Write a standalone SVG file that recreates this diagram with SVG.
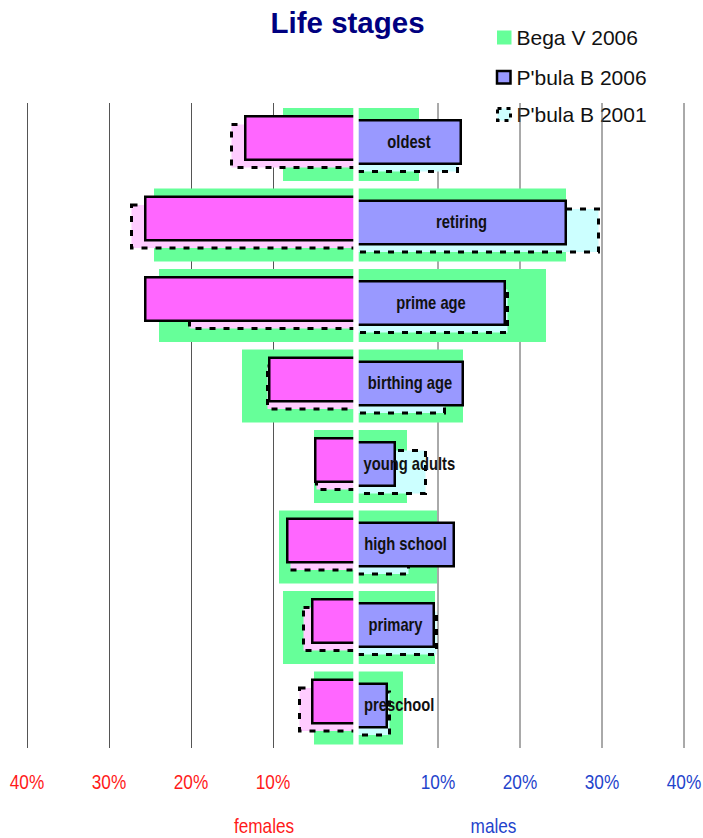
<svg xmlns="http://www.w3.org/2000/svg" width="703" height="838" viewBox="0 0 703 838">
<style>
.grid{stroke:#555;stroke-width:1}
.g{fill:#66FF99}
.f1{fill:#FFCCFF;stroke:#000;stroke-width:3;stroke-dasharray:6 8}
.f6{fill:#FF66FF;stroke:#000;stroke-width:2.5}
.m1{fill:#CCFFFF;stroke:#000;stroke-width:3;stroke-dasharray:6 8}
.m6{fill:#9999FF;stroke:#000;stroke-width:2.5}
.lbl{font-family:'Liberation Sans',Arial,sans-serif;font-weight:bold;font-size:18px;fill:#111;text-anchor:middle}
.ax{font-family:'Liberation Sans',Arial,sans-serif;font-size:21px;text-anchor:middle}
.red{fill:#FF1A1A}
.blue{fill:#1F44CC}
.leg{font-family:'Liberation Sans',Arial,sans-serif;font-size:21px;fill:#111}
</style>
<rect width="703" height="838" fill="#fff"/>
<text x="270.5" y="33" font-family="'Liberation Sans',Arial,sans-serif" font-weight="bold" font-size="29.5" fill="#000080">Life stages</text>
<g id="legend">
<rect x="497" y="30.5" width="14.5" height="14" fill="#66FF99"/>
<text class="leg" x="516.5" y="45">Bega V 2006</text>
<rect x="497" y="71" width="13.5" height="12.5" fill="#9999FF" stroke="#000" stroke-width="2.5"/>
<text class="leg" x="516.5" y="84.5">P'bula B 2006</text>
<rect x="497.5" y="108.5" width="13" height="12" fill="#CCFFFF" stroke="#000" stroke-width="3" stroke-dasharray="4 5"/>
<text class="leg" x="516.5" y="122">P'bula B 2001</text>
</g>
<g id="gridlines">
<line class="grid" x1="27.5" y1="103" x2="27.5" y2="748"/>
<line class="grid" x1="109.5" y1="103" x2="109.5" y2="748"/>
<line class="grid" x1="191.5" y1="103" x2="191.5" y2="748"/>
<line class="grid" x1="273.5" y1="103" x2="273.5" y2="748"/>
<line class="grid" x1="438" y1="103" x2="438" y2="748"/>
<line class="grid" x1="520" y1="103" x2="520" y2="748"/>
<line class="grid" x1="602" y1="103" x2="602" y2="748"/>
<line class="grid" x1="684" y1="103" x2="684" y2="748"/>
</g>
<g id="oldest">
<rect class="g" x="283" y="108" width="136" height="73"/>
<rect class="f1" x="231.5" y="124.5" width="124.5" height="43"/>
<rect class="f6" x="245.25" y="116.25" width="110.75" height="43.5"/>
<rect class="m1" x="356" y="128.5" width="101.5" height="43"/>
<rect class="m6" x="356" y="120.25" width="104.75" height="43.5"/>
</g>
<g id="retiring">
<rect class="g" x="154" y="188.5" width="412" height="73"/>
<rect class="f1" x="131.5" y="205" width="224.5" height="43"/>
<rect class="f6" x="145.25" y="196.75" width="210.75" height="43.5"/>
<rect class="m1" x="356" y="209" width="242.5" height="43"/>
<rect class="m6" x="356" y="200.75" width="209.75" height="43.5"/>
</g>
<g id="prime-age">
<rect class="g" x="159" y="269" width="387" height="73"/>
<rect class="f1" x="189.5" y="285.5" width="166.5" height="43"/>
<rect class="f6" x="145.25" y="277.25" width="210.75" height="43.5"/>
<rect class="m1" x="356" y="289.5" width="151.5" height="43"/>
<rect class="m6" x="356" y="281.25" width="148.75" height="43.5"/>
</g>
<g id="birthing-age">
<rect class="g" x="242" y="349.5" width="221" height="73"/>
<rect class="f1" x="267.5" y="366" width="88.5" height="43"/>
<rect class="f6" x="269.25" y="357.75" width="86.75" height="43.5"/>
<rect class="m1" x="356" y="370" width="88.5" height="43"/>
<rect class="m6" x="356" y="361.75" width="106.75" height="43.5"/>
</g>
<g id="young-adults">
<rect class="g" x="314" y="430" width="93" height="73"/>
<rect class="f1" x="316.5" y="446.5" width="39.5" height="43"/>
<rect class="f6" x="315.25" y="438.25" width="40.75" height="43.5"/>
<rect class="m1" x="356" y="450.5" width="69.5" height="43"/>
<rect class="m6" x="356" y="442.25" width="38.75" height="43.5"/>
</g>
<g id="high-school">
<rect class="g" x="279" y="510.5" width="158" height="73"/>
<rect class="f1" x="290.5" y="527" width="65.5" height="43"/>
<rect class="f6" x="287.25" y="518.75" width="68.75" height="43.5"/>
<rect class="m1" x="356" y="531" width="52.5" height="43"/>
<rect class="m6" x="356" y="522.75" width="97.75" height="43.5"/>
</g>
<g id="primary">
<rect class="g" x="283" y="591" width="152" height="73"/>
<rect class="f1" x="303.5" y="607.5" width="52.5" height="43"/>
<rect class="f6" x="312.25" y="599.25" width="43.75" height="43.5"/>
<rect class="m1" x="356" y="611.5" width="80.5" height="43"/>
<rect class="m6" x="356" y="603.25" width="77.75" height="43.5"/>
</g>
<g id="preschool">
<rect class="g" x="314" y="671.5" width="89" height="73"/>
<rect class="f1" x="299.5" y="688" width="56.5" height="43"/>
<rect class="f6" x="312.25" y="679.75" width="43.75" height="43.5"/>
<rect class="m1" x="356" y="692" width="33.5" height="43"/>
<rect class="m6" x="356" y="683.75" width="30.75" height="43.5"/>
</g>
<rect id="center-gap" x="353.3" y="100" width="5.4" height="650" fill="#fff"/>
<g id="labels">
<text class="lbl" transform="translate(409,147.5) scale(0.82,1)">oldest</text>
<text class="lbl" transform="translate(461.5,228) scale(0.82,1)">retiring</text>
<text class="lbl" transform="translate(431,308.5) scale(0.82,1)">prime age</text>
<text class="lbl" transform="translate(410,389) scale(0.82,1)">birthing age</text>
<text class="lbl" transform="translate(363.5,469.5) scale(0.82,1)" style="text-anchor:start">young adults</text>
<text class="lbl" transform="translate(405.5,550) scale(0.82,1)">high school</text>
<text class="lbl" transform="translate(395.5,630.5) scale(0.82,1)">primary</text>
<text class="lbl" transform="translate(364,711) scale(0.82,1)" style="text-anchor:start">preschool</text>
</g>
<g id="axis">
<text class="ax red" transform="translate(27,789) scale(0.82,1)">40%</text>
<text class="ax red" transform="translate(109,789) scale(0.82,1)">30%</text>
<text class="ax red" transform="translate(191,789) scale(0.82,1)">20%</text>
<text class="ax red" transform="translate(273,789) scale(0.82,1)">10%</text>
<text class="ax blue" transform="translate(438,789) scale(0.82,1)">10%</text>
<text class="ax blue" transform="translate(520,789) scale(0.82,1)">20%</text>
<text class="ax blue" transform="translate(602,789) scale(0.82,1)">30%</text>
<text class="ax blue" transform="translate(684,789) scale(0.82,1)">40%</text>
<text class="ax red" transform="translate(264,833) scale(0.82,1)">females</text>
<text class="ax blue" transform="translate(493.5,833) scale(0.82,1)">males</text>
</g>
</svg>
